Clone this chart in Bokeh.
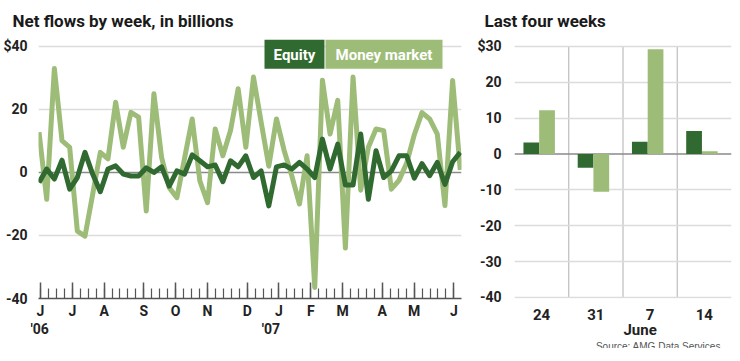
from bokeh.plotting import figure
from bokeh.layouts import row, column
from bokeh.models import Range1d, FactorRange, FixedTicker, Span, ColumnDataSource, Title
from bokeh.core.properties import value
from bokeh.transform import dodge
from bokeh.embed import file_html
from bokeh.resources import INLINE

# ---------------- data ----------------
equity = [-3.2, 1.1, -2.1, 3.9, -5.3, -1.6, 6.4, -0.5, -6.1, 1.1,
          2.1, -0.5, -1.1, -1.1, 1.5, 0.0, 1.8, -4.3, 0.5, -0.5,
          5.6, 3.7, 1.8, 2.4, -2.9, 3.7, 1.8, 5.3, -1.6, 0.5,
          -10.6, 1.8, 2.4, 1.1, 3.2, 1.1, -1.6, 10.6, 1.1, 9.0,
          -4.0, -4.0, 12.2, -8.5, 6.9, -1.6, 0.5, 5.3, 5.3, -1.8,
          2.8, -1.0, 3.2, -3.8, 3.4, 6.4]
money = [12.8, -8.5, 33.0, 10.1, 8.0, -18.6, -20.2, -7.0, 6.4, 4.3,
         22.3, 8.0, 19.1, 17.6, -12.2, 25.0, 4.8, -4.8, -8.0, 4.5,
         17.0, -2.7, -9.6, 13.8, 5.3, 13.3, 26.6, 8.0, 30.3, 16.0,
         2.0, 17.0, 7.0, -1.0, -10.0, 5.3, -36.5, 29.3, 12.2, 22.9,
         -24.0, 30.3, -5.6, 8.0, 13.8, 13.3, -5.3, -2.5, 3.0, 12.0,
         19.0, 17.0, 12.2, -10.5, 29.2, 0.8]
week_index = list(range(len(equity)))

month_labels = ["J", "J", "A", "S", "O", "N", "D", "J", "F", "M", "A", "M", "J"]
month_weeks = [0, 4, 8, 13, 17, 21, 26, 30, 34, 38, 43, 47, 52]
minor_weeks = list(range(0, 53))
year_labels = ["'06", "'07"]
year_weeks = [0, 30]

left_yticks = [-40, -20, 0, 20, 40]
left_ylabels = ["-40", "-20", "0", "20", "$40"]

recent_weeks = ["24", "31", "7", "14"]
recent_month = ["", "", "June", ""]
recent_equity = [3.2, -3.8, 3.4, 6.4]
recent_money = [12.2, -10.5, 29.2, 0.8]
right_yticks = [-40, -30, -20, -10, 0, 10, 20, 30]
right_ylabels = ["-40", "-30", "-20", "-10", "0", "10", "20", "$30"]

source_note = "Source: AMG Data Services"

# ---------------- style ----------------
FONT = "Roboto"
DARK = "#316a30"
LIGHT = "#9dbc78"
GRID = "#dcdcdc"
TXT = "#222222"
TOP, BOTTOM, FRAME_H, STRIP_H = 31, 23, 259, 26

# ---------------- left chart ----------------
p1 = figure(frame_width=423, frame_height=FRAME_H, output_backend="svg", toolbar_location=None,
            x_range=Range1d(-0.25, 52.96), y_range=Range1d(-40, 42.22),
            min_border_left=30, min_border_right=13, min_border_top=TOP, min_border_bottom=BOTTOM)
p1.extra_x_ranges = {"idx": Range1d(-0.07, 55.16)}
p1.outline_line_color = None

p1.title = Title(text="Net flows by week, in billions", align="left", offset=-26, standoff=17,
                 text_font=FONT, text_font_style="bold", text_font_size="17px", text_color="#1a1a1a")

src = ColumnDataSource(dict(x=week_index, eq=equity, mm=money))
p1.line("x", "mm", source=src, x_range_name="idx", line_color=LIGHT, line_width=5, line_join="round")
p1.line("x", "eq", source=src, x_range_name="idx", line_color=DARK, line_width=5, line_join="round")

p1.xgrid.visible = False
p1.ygrid.ticker = FixedTicker(ticks=[t for t in left_yticks if t not in (0, -40)])
p1.ygrid.grid_line_color = GRID
p1.ygrid.grid_line_width = 1.5
p1.add_layout(Span(location=0, dimension="width", line_color="#8a8a8a", line_width=1.5, level="underlay"))

xa = p1.xaxis[0]
xa.ticker = FixedTicker(ticks=month_weeks, minor_ticks=minor_weeks)
xa.major_label_overrides = {w: lab for w, lab in zip(month_weeks, month_labels)}
xa.axis_line_color = "#555555"
xa.axis_line_width = 1.5
xa.major_tick_in = 16
xa.major_tick_out = 0
xa.minor_tick_in = 10
xa.minor_tick_out = 0
xa.major_tick_line_color = "#555555"
xa.minor_tick_line_color = "#555555"
xa.major_tick_line_width = 1.5
xa.minor_tick_line_width = 1.2
xa.major_label_standoff = 4
xa.major_label_text_font = FONT
xa.major_label_text_font_style = "bold"
xa.major_label_text_font_size = "14px"
xa.major_label_text_color = TXT

ya = p1.yaxis[0]
ya.ticker = FixedTicker(ticks=left_yticks)
ya.major_label_overrides = {t: lab for t, lab in zip(left_yticks, left_ylabels)}
ya.axis_line_color = None
ya.major_tick_line_color = None
ya.minor_tick_line_color = None
ya.major_label_standoff = 5
ya.major_label_text_font = FONT
ya.major_label_text_font_style = "bold"
ya.major_label_text_font_size = "14px"
ya.major_label_text_color = TXT

# legend boxes
p1.quad(left=[28.18, 35.85], right=[35.72, 50.57], top=[42.22, 42.22], bottom=[32.96, 32.96],
        fill_color=[DARK, LIGHT], line_color=None)
p1.text(x=[31.95, 43.21], y=[37.4, 37.4], text=["Equity", "Money market"], text_color="white",
        text_font=value(FONT), text_font_style="bold", text_font_size="15px",
        text_align="center", text_baseline="middle")

# ---------------- right chart ----------------
p2 = figure(frame_width=217, frame_height=FRAME_H, output_backend="svg", toolbar_location=None,
            x_range=FactorRange(*recent_weeks), y_range=Range1d(-40.28, 31.95),
            min_border_left=38, min_border_right=3, min_border_top=TOP, min_border_bottom=BOTTOM)
p2.outline_line_color = None
p2.title = Title(text="Last four weeks", align="left", offset=-30, standoff=17,
                 text_font=FONT, text_font_style="bold", text_font_size="17px", text_color="#1a1a1a")

src2 = ColumnDataSource(dict(w=recent_weeks, eq=recent_equity, mm=recent_money, mo=recent_month))
p2.vbar(x=dodge("w", -0.19, range=p2.x_range), top="eq", bottom=0, width=0.29, source=src2,
        fill_color=DARK, line_color=None)
p2.vbar(x=dodge("w", 0.10, range=p2.x_range), top="mm", bottom=0, width=0.29, source=src2,
        fill_color=LIGHT, line_color=None)

p2.xgrid.visible = False
p2.ygrid.ticker = FixedTicker(ticks=[t for t in right_yticks if t != 0])
p2.ygrid.grid_line_color = GRID
p2.ygrid.grid_line_width = 1.5
p2.add_layout(Span(location=0, dimension="width", line_color="#8a8a8a", line_width=1.5, level="underlay"))
sep = ColumnDataSource(dict(w=recent_weeks[:-1]))
p2.segment(x0=dodge("w", 0.5, range=p2.x_range), x1=dodge("w", 0.5, range=p2.x_range),
           y0=min(right_yticks), y1=max(right_yticks), source=sep,
           line_color="#bdbdbd", line_width=1.2, level="underlay")

xb = p2.xaxis[0]
xb.axis_line_color = None
xb.major_tick_line_color = None
xb.minor_tick_line_color = None
xb.major_label_standoff = 4
xb.major_label_text_font = FONT
xb.major_label_text_font_style = "bold"
xb.major_label_text_font_size = "15px"
xb.major_label_text_color = TXT

yb = p2.yaxis[0]
yb.ticker = FixedTicker(ticks=right_yticks)
yb.major_label_overrides = {t: lab for t, lab in zip(right_yticks, right_ylabels)}
yb.axis_line_color = None
yb.major_tick_line_color = None
yb.minor_tick_line_color = None
yb.major_label_standoff = 7
yb.major_label_text_font = FONT
yb.major_label_text_font_style = "bold"
yb.major_label_text_font_size = "14px"
yb.major_label_text_color = TXT

# ---------------- second-line labels and source strip ----------------
s1 = figure(frame_width=423, frame_height=STRIP_H, output_backend="svg", toolbar_location=None,
            x_range=p1.x_range, y_range=Range1d(0, STRIP_H),
            min_border_left=30, min_border_right=13, min_border_top=0, min_border_bottom=0,
            x_axis_location=None, y_axis_location=None)
s1.grid.visible = False
s1.outline_line_color = None
s1.text(x=[p1.x_range.start], y=[STRIP_H - 6], text=year_labels[:1], text_font=value(FONT),
        text_font_style="bold", text_font_size="14px", text_color=TXT,
        text_align="left", text_baseline="middle")
s1.text(x=year_weeks[1:], y=[STRIP_H - 6], text=year_labels[1:], text_font=value(FONT),
        text_font_style="bold", text_font_size="14px", text_color=TXT,
        text_align="center", text_baseline="middle")

s2 = figure(frame_width=217, frame_height=STRIP_H, output_backend="svg", toolbar_location=None,
            x_range=p2.x_range, y_range=Range1d(0, STRIP_H),
            min_border_left=38, min_border_right=3, min_border_top=0, min_border_bottom=0,
            x_axis_location=None, y_axis_location=None)
s2.grid.visible = False
s2.outline_line_color = None
s2.text(x="w", y=STRIP_H - 7, text="mo", source=src2, text_font=value(FONT),
        text_font_style="bold", text_font_size="15px", text_color=TXT,
        text_align="center", text_baseline="middle")
s2.text(x=dodge("w", 0.49, range=p2.x_range), y=2.5, text=value(source_note),
        source=ColumnDataSource(dict(w=recent_weeks[-1:])),
        text_font=value("Liberation Sans"), text_font_size="10px", text_color="#555555",
        text_align="right", text_baseline="alphabetic")

layout = column(row(p1, p2), row(s1, s2))
open("out.html", "w").write(file_html(layout, INLINE))
